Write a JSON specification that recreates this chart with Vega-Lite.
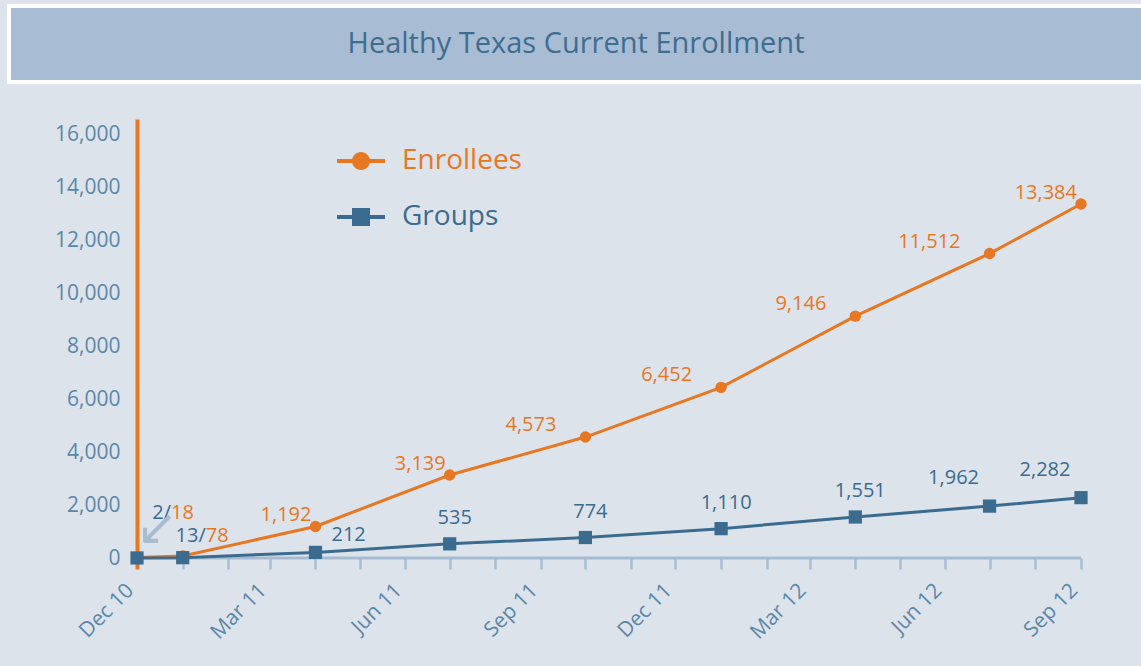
{
  "$schema": "https://vega.github.io/schema/vega-lite/v6.json",
  "background": "#dde3eb",
  "padding": {"left": 7, "top": 4, "right": 0, "bottom": 40},
  "spacing": 35,
  "config": {"font": "Open Sans", "view": {"stroke": null}},
  "datasets": {
    "enroll": [
      {"date": "2010-12-01", "Enrollees": 18, "Groups": 2},
      {"date": "2011-01-01", "Enrollees": 78, "Groups": 13},
      {"date": "2011-04-01", "Enrollees": 1192, "Groups": 212},
      {"date": "2011-07-01", "Enrollees": 3139, "Groups": 535},
      {"date": "2011-10-01", "Enrollees": 4573, "Groups": 774},
      {"date": "2012-01-01", "Enrollees": 6452, "Groups": 1110},
      {"date": "2012-04-01", "Enrollees": 9146, "Groups": 1551},
      {"date": "2012-07-01", "Enrollees": 11512, "Groups": 1962},
      {"date": "2012-09-01", "Enrollees": 13384, "Groups": 2282}
    ]
  },
  "vconcat": [
    {
      "width": 1134,
      "height": 76,
      "view": {"fill": "#a8bcd4", "stroke": "white", "strokeWidth": 4},
      "data": {"values": [{"t": "Healthy Texas Current Enrollment"}]},
      "mark": {"type": "text", "font": "Open Sans", "fontSize": 29, "color": "#3f6d8f"},
      "encoding": {"text": {"field": "t", "type": "nominal"}}
    },
    {
      "width": 1132,
      "height": 439,
      "encoding": {
        "x": {
          "field": "date",
          "type": "temporal",
          "scale": {
            "type": "utc",
            "nice": false,
            "domain": [
              {"year": 2010, "month": 9, "date": 5, "hours": 5, "minutes": 17, "utc": true},
              {"year": 2012, "month": 10, "date": 11, "hours": 16, "minutes": 19, "utc": true}
            ]
          },
          "axis": {
            "title": null,
            "grid": false,
            "domain": false,
            "tickCount": {"interval": "month", "step": 1},
            "labelExpr": "datum.value >= utc(2010,11,1) && datum.value <= utc(2012,8,1) && utcmonth(datum.value) % 3 == 2 ? utcFormat(datum.value, '%b %y') : ''",
            "labelAngle": -45,
            "labelBaseline": "bottom",
            "labelFontSize": 21,
            "labelColor": "#5b87a8",
            "labelPadding": 25,
            "labelOverlap": false,
            "labelFlush": false,
            "labelBound": false,
            "tickColor": {"condition": {"test": "utcyear(datum.value) == 2010 && utcmonth(datum.value) == 11", "value": "#e87722"}, "value": "#a9bed3"},
            "tickWidth": {"condition": {"test": "utcyear(datum.value) == 2010 && utcmonth(datum.value) == 11", "value": 4}, "value": 2.5},
            "tickOpacity": {"condition": {"test": "datum.value < utc(2010,11,1) || datum.value > utc(2012,8,1)", "value": 0}, "value": 1},
            "tickSize": 11
          }
        },
        "y": {
          "field": "count",
          "type": "quantitative",
          "scale": {"domain": [0, 16600], "nice": false},
          "axis": {
            "title": null,
            "offset": -128,
            "values": [0, 2000, 4000, 6000, 8000, 10000, 12000, 14000, 16000],
            "format": ",.0f",
            "ticks": false,
            "grid": false,
            "labelPadding": 17,
            "labelFontSize": 21,
            "labelColor": "#5b87a8",
            "domainColor": "#e87722",
            "domainWidth": 4
          }
        }
      },
      "layer": [
        {
          "data": {"values": [{"count": 2000}, {"count": 4000}, {"count": 6000}, {"count": 8000}, {"count": 10000}, {"count": 12000}, {"count": 14000}, {"count": 16000}]},
          "mark": {"type": "rule", "color": "white", "strokeWidth": 2},
          "encoding": {
            "x": {"datum": {"year": 2010, "month": 12, "date": 2, "hours": 12, "utc": true}, "type": "temporal"},
            "x2": {"datum": {"year": 2012, "month": 9, "date": 1, "utc": true}}
          }
        },
        {
          "data": {"values": [{"date": "2010-12-01", "count": 0}, {"date": "2012-09-01", "count": 0}]},
          "mark": {"type": "line", "color": "#a6bbd1", "strokeWidth": 3, "strokeCap": "butt"}
        },
        {
          "data": {"name": "enroll"},
          "transform": [{"fold": ["Enrollees", "Groups"], "as": ["series", "count"]}],
          "mark": {"type": "line", "strokeWidth": 3},
          "encoding": {
            "color": {
              "field": "series",
              "type": "nominal",
              "scale": {"domain": ["Enrollees", "Groups"], "range": ["#e87722", "#3b6b8e"]},
              "legend": {
                "title": null,
                "orient": "none",
                "legendX": 328,
                "legendY": 131,
                "symbolSize": 2304,
                "symbolStrokeWidth": 0,
                "labelFontSize": 28,
                "labelFont": "Open Sans",
                "labelOffset": 17,
                "rowPadding": 18,
                "encode": {
                  "symbols": {"update": {
                    "shape": {"signal": "datum.value === 'Enrollees' ? 'M-1,-0.085H1V0.085H-1Z M0,-0.375A0.375,0.375,0,1,1,0,0.375A0.375,0.375,0,1,1,0,-0.375Z' : 'M-1,-0.085H1V0.085H-1Z M-0.375,-0.375H0.375V0.375H-0.375Z'"},
                    "fill": {"signal": "datum.value === 'Enrollees' ? '#e87722' : '#3b6b8e'"},
                    "stroke": {"value": null},
                    "strokeWidth": {"value": 0},
                    "opacity": {"value": 1}
                  }},
                  "labels": {"update": {"fill": {"signal": "datum.value === 'Enrollees' ? '#e87722' : '#3b6b8e'"}}}
                }
              }
            }
          }
        },
        {
          "data": {"name": "enroll"},
          "transform": [{"fold": ["Enrollees", "Groups"], "as": ["series", "count"]}, {"filter": "datum.series == 'Enrollees'"}],
          "mark": {"type": "point", "filled": true, "shape": "circle", "size": 130, "color": "#e87722", "opacity": 1}
        },
        {
          "data": {"name": "enroll"},
          "transform": [{"fold": ["Enrollees", "Groups"], "as": ["series", "count"]}, {"filter": "datum.series == 'Groups'"}],
          "mark": {"type": "point", "filled": true, "shape": "square", "size": 175, "color": "#3b6b8e", "opacity": 1}
        },
        {
          "data": {"name": "enroll"},
          "transform": [{"fold": ["Enrollees", "Groups"], "as": ["series", "count"]}, {"filter": "datum.series == 'Enrollees' && datum.count >= 1000 && (datum.count < 4000 || datum.count > 13000)"}],
          "mark": {"type": "text", "align": "right", "dx": -4, "dy": -11, "fontSize": 20, "color": "#e87722"},
          "encoding": {"text": {"field": "count", "type": "quantitative", "format": ","}}
        },
        {
          "data": {"name": "enroll"},
          "transform": [{"fold": ["Enrollees", "Groups"], "as": ["series", "count"]}, {"filter": "datum.series == 'Enrollees' && datum.count > 4000 && datum.count < 13000"}],
          "mark": {"type": "text", "align": "right", "dx": -29, "dy": -12, "fontSize": 20, "color": "#e87722"},
          "encoding": {"text": {"field": "count", "type": "quantitative", "format": ","}}
        },
        {
          "data": {"name": "enroll"},
          "transform": [{"fold": ["Enrollees", "Groups"], "as": ["series", "count"]}, {"filter": "datum.series == 'Groups' && datum.count > 500 && datum.count < 1600"}],
          "mark": {"type": "text", "align": "center", "dx": 5, "dy": -26, "fontSize": 20, "color": "#3b6b8e"},
          "encoding": {"text": {"field": "count", "type": "quantitative", "format": ","}}
        },
        {
          "data": {"name": "enroll"},
          "transform": [{"fold": ["Enrollees", "Groups"], "as": ["series", "count"]}, {"filter": "datum.series == 'Groups' && datum.count > 1900"}],
          "mark": {"type": "text", "align": "center", "dx": -36, "dy": -28, "fontSize": 20, "color": "#3b6b8e"},
          "encoding": {"text": {"field": "count", "type": "quantitative", "format": ","}}
        },
        {
          "data": {"name": "enroll"},
          "transform": [{"fold": ["Enrollees", "Groups"], "as": ["series", "count"]}, {"filter": "datum.series == 'Groups' && datum.count > 100 && datum.count < 300"}],
          "mark": {"type": "text", "align": "left", "dx": 16, "dy": -17, "fontSize": 20, "color": "#3b6b8e"},
          "encoding": {"text": {"field": "count", "type": "quantitative", "format": ","}}
        },
        {
          "data": {"name": "enroll"},
          "transform": [{"fold": ["Enrollees", "Groups"], "as": ["series", "count"]}, {"filter": "datum.series == 'Groups' && datum.count == 2"}, {"calculate": "datum.Groups + '/'", "as": "gl"}],
          "mark": {"type": "text", "align": "right", "dx": 34, "dy": -45, "fontSize": 20, "color": "#3b6b8e"},
          "encoding": {"text": {"field": "gl", "type": "nominal"}}
        },
        {
          "data": {"name": "enroll"},
          "transform": [{"fold": ["Enrollees", "Groups"], "as": ["series", "count"]}, {"filter": "datum.series == 'Groups' && datum.count == 2"}],
          "mark": {"type": "text", "align": "left", "dx": 34, "dy": -45, "fontSize": 20, "color": "#e87722"},
          "encoding": {"text": {"field": "Enrollees", "type": "quantitative"}}
        },
        {
          "data": {"name": "enroll"},
          "transform": [{"fold": ["Enrollees", "Groups"], "as": ["series", "count"]}, {"filter": "datum.series == 'Groups' && datum.count == 13"}, {"calculate": "datum.Groups + '/'", "as": "gl"}],
          "mark": {"type": "text", "align": "right", "dx": 23, "dy": -22, "fontSize": 20, "color": "#3b6b8e"},
          "encoding": {"text": {"field": "gl", "type": "nominal"}}
        },
        {
          "data": {"name": "enroll"},
          "transform": [{"fold": ["Enrollees", "Groups"], "as": ["series", "count"]}, {"filter": "datum.series == 'Groups' && datum.count == 13"}],
          "mark": {"type": "text", "align": "left", "dx": 23, "dy": -22, "fontSize": 20, "color": "#e87722"},
          "encoding": {"text": {"field": "Enrollees", "type": "quantitative"}}
        },
        {
          "data": {"name": "enroll"},
          "transform": [{"fold": ["Enrollees", "Groups"], "as": ["series", "count"]}, {"filter": "datum.series == 'Groups' && datum.count == 2"}],
          "mark": {"type": "text", "text": "↙", "font": "DejaVu Sans", "align": "center", "dx": 20, "dy": -29, "fontSize": 50, "color": "#a9bccf"}
        }
      ]
    }
  ]
}
